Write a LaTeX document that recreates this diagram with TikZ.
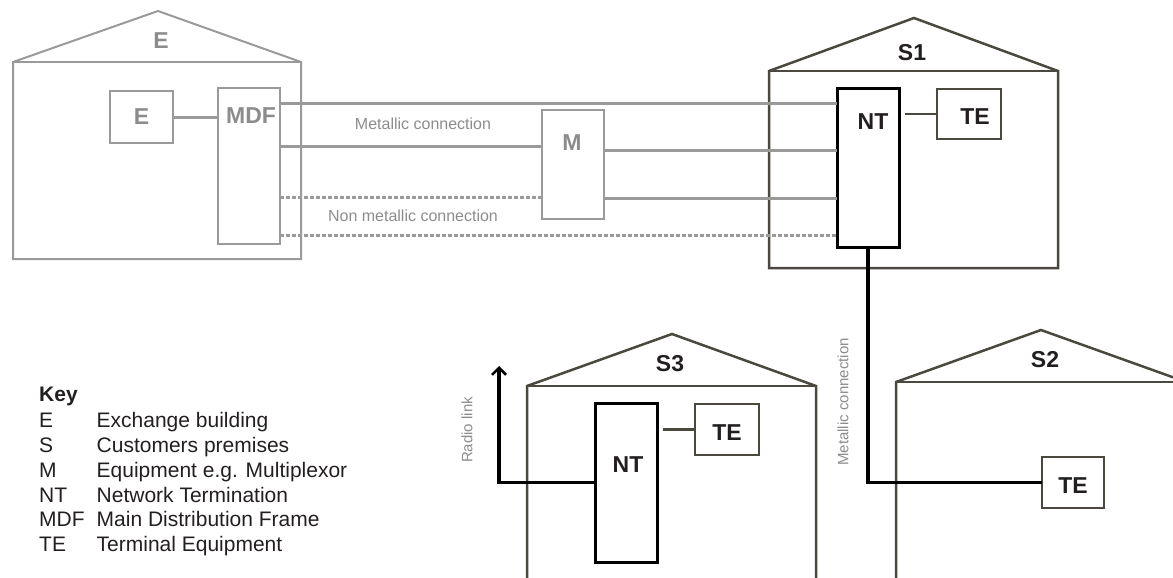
\documentclass[tikz,border=0pt]{standalone}
\usepackage{fontspec}
\setmainfont{Liberation Sans}
\usetikzlibrary{arrows.meta}
\definecolor{egray}{HTML}{9A9A9A}
\definecolor{etext}{HTML}{8C8C8C}
\definecolor{sdark}{HTML}{4B4840}
\definecolor{ktext}{HTML}{231F20}
\begin{document}
\begin{tikzpicture}[x=1pt,y=-1pt,
  ebld/.style={draw=egray, line width=2pt, line join=miter},
  sbld/.style={draw=sdark, line width=2.5pt},
  gbox/.style={draw=egray, line width=2pt, inner sep=0pt, outer sep=0pt},
  ntbox/.style={draw=black, line width=3pt, inner sep=0pt, outer sep=0pt},
  tebox/.style={draw=sdark, line width=2.5pt, inner sep=0pt, outer sep=0pt},
  gcon/.style={draw=egray, line width=3pt},
  gdot/.style={draw=egray, line width=3pt, dash pattern=on 4pt off 2pt},
  tcon/.style={draw=sdark, line width=2.5pt},
  bcon/.style={draw=black, line width=3.5pt},
  glabel/.style={font=\fontsize{23}{27}\selectfont\bfseries, text=etext, inner sep=0pt},
  slabel/.style={font=\fontsize{23}{27}\selectfont\bfseries, text=ktext, inner sep=0pt},
  ctext/.style={font=\fontsize{16}{19}\selectfont, text=etext, inner sep=0pt},
  keyt/.style={font=\fontsize{21}{25}\selectfont, text=ktext, inner sep=0pt, anchor=base west}
]
\useasboundingbox (0,0) rectangle (1173,578);

% ---- buildings ----
\draw[ebld] (13,259) -- (13,62) -- (158,11) -- (301,62) -- (301,259) -- cycle;
\draw[ebld] (13,62) -- (301,62);
\node[glabel] (Elab) at (161,41) {E};

\draw[sbld] (769,268) -- (769,71) -- (914,18) -- (1058,71) -- (1058,268) -- cycle;
\draw[sbld] (769,71) -- (1058,71);
\node[slabel] (S1lab) at (912,53) {S1};

\draw[sbld] (527,578) -- (527,386) -- (672,334) -- (816,386) -- (816,578);
\draw[sbld] (527,386) -- (816,386);
\node[slabel] (S3lab) at (670,364) {S3};

\draw[sbld] (896,578) -- (896,382) -- (1041,330) -- (1173,377.3);
\draw[sbld] (896,382) -- (1173,382);
\node[slabel] (S2lab) at (1045,360) {S2};

% ---- boxes ----
\node[gbox, minimum width=63pt, minimum height=52pt] (Ebox) at (141.5,117) {};
\node[glabel] at (141.5,117) {E};
\node[gbox, minimum width=62pt, minimum height=156pt] (MDF) at (249,166) {};
\node[glabel] at (251,116) {MDF};
\node[gbox, minimum width=62pt, minimum height=109pt] (M) at (573,164.5) {};
\node[glabel] at (572,143) {M};

\node[ntbox, minimum width=62pt, minimum height=158pt] (NT1) at (868,168) {};
\node[slabel] at (873,122) {NT};
\node[tebox, minimum width=64pt, minimum height=50pt] (TE1) at (969,114) {};
\node[slabel] at (975,117) {TE};

\node[ntbox, minimum width=62pt, minimum height=159pt] (NT3) at (626,482.5) {};
\node[slabel] at (628,465) {NT};
\node[tebox, minimum width=64pt, minimum height=51pt] (TE3) at (727,429.5) {};
\node[slabel] at (727,433) {TE};

\node[tebox, minimum width=62pt, minimum height=51pt] (TE2) at (1073,482.5) {};
\node[slabel] at (1073,486) {TE};

% ---- connectors ----
\draw[gcon] (Ebox.east) -- (MDF.west |- Ebox.east);
\draw[gcon] (MDF.east |- 0,103) -- (NT1.west |- 0,103);
\draw[gcon] (MDF.east |- 0,146) -- (M.west |- 0,146);
\draw[gcon] (M.east |- 0,150) -- (NT1.west |- 0,150);
\draw[gcon] (M.east |- 0,198) -- (NT1.west |- 0,198);
\draw[gdot] (MDF.east |- 0,197) -- (M.west |- 0,197);
\draw[gdot] (MDF.east |- 0,235) -- (NT1.west |- 0,235);

\draw[tcon] ([xshift=6pt]NT1.east |- TE1.west) -- (TE1.west);
\draw[tcon] ([xshift=6pt]NT3.east |- TE3.west) -- (TE3.west);

\draw[bcon] (NT1.south) |- (TE2.west);
\coordinate (radio) at (499,366);
\draw[bcon, -{Straight Barb[length=7pt,width=14pt,line width=2.5pt]}] (NT3.west) -| (radio);

% ---- connection labels ----
\node[ctext] at (423,124) {Metallic connection};
\node[ctext] at (413,216) {Non metallic connection};
\node[ctext, rotate=90, font=\fontsize{15}{18}\selectfont] at (843,402) {Metallic connection};
\node[ctext, rotate=90, font=\fontsize{15}{18}\selectfont] at (467,430) {Radio link};

% ---- key ----
\node[keyt] at (39,401.5) {\textbf{Key}};
\node[keyt] at (39,427.5) {E};   \node[keyt] at (96.5,427.5) {Exchange building};
\node[keyt] at (39,452)   {S};   \node[keyt] at (96.5,452)   {Customers premises};
\node[keyt] at (39,477)   {M};   \node[keyt] at (96.5,477)   {Equipment e.g. Multiplexor};
\node[keyt] at (39,502)   {NT};  \node[keyt] at (96.5,502)   {Network Termination};
\node[keyt] at (39,526.5) {MDF}; \node[keyt] at (96.5,526.5) {Main Distribution Frame};
\node[keyt] at (39,551)   {TE};  \node[keyt] at (96.5,551)   {Terminal Equipment};
\end{tikzpicture}
\end{document}
